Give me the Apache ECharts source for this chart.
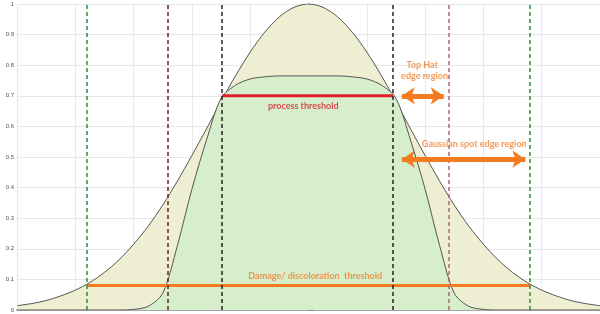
<!DOCTYPE html>
<html><head><meta charset="utf-8">
<script src="https://cdn.jsdelivr.net/npm/echarts@6/dist/echarts.min.js"></script>
<style>html,body{margin:0;padding:0;background:#fff}#c{width:600px;height:314px}</style>
</head><body><div id="c"></div>
<script>
// x positions (beam coordinate)
const xs = [-5,-4.75,-4.5,-4.25,-4,-3.75,-3.5,-3.25,-3,-2.75,-2.5,-2.25,-2,-1.75,-1.5,-1.25,-1,-0.75,-0.5,-0.25,0,
            0.25,0.5,0.75,1,1.25,1.5,1.75,2,2.25,2.5,2.75,3,3.25,3.5,3.75,4,4.25,4.5,4.75,5];
const gaussian = [0.014,0.021,0.031,0.046,0.065,0.090,0.123,0.164,0.215,0.274,0.343,0.421,0.505,0.592,0.681,0.766,0.843,0.908,0.958,0.989,1.0,
                  0.989,0.958,0.908,0.843,0.766,0.681,0.592,0.505,0.421,0.343,0.274,0.215,0.164,0.123,0.090,0.065,0.046,0.031,0.021,0.014];
const topHat = [0,0,0,0,0,0,0,0,0.002,0.012,0.055,0.21,0.395,0.555,0.692,0.735,0.755,0.762,0.765,0.765,0.765,
                0.765,0.765,0.762,0.755,0.735,0.692,0.555,0.395,0.21,0.055,0.012,0.002,0,0,0,0,0,0,0,0];
const yTicks = [0,0.1,0.2,0.3,0.4,0.5,0.6,0.7,0.8,0.9,1];
// vertical dashed markers
const markerX = [-3.8,-2.42,-1.48,1.45,2.41,3.8];
const markerColors = ['#2f8a3a','#6a2020','#222222','#222222','#a86a74','#2f8a3a'];
// thresholds
const processThreshold = {value:0.7, from:-1.48, to:1.45};
const damageThreshold = {value:0.08, from:-3.8, to:3.8};
// arrows [x1,x2,y]
const topHatArrow = [1.6, 2.32, 0.70];
const gaussArrow = [1.6, 3.72, 0.493];
// labels [text, x, y, color]
const labels = [
  ['Top Hat', 1.95, 0.80, '#f07f2a'],
  ['edge region', 1.99, 0.764, '#f07f2a'],
  ['Gaussian spot edge region', 2.843, 0.5425, '#f07f2a'],
  ['process threshold', -0.09, 0.667, '#d8202e'],
  ['Damage/ discoloration  threshold', 0.115, 0.112, '#f07f2a']
];

const chart = echarts.init(document.getElementById('c'));
const pair = (a) => xs.map((x,i)=>[x,a[i]]);
chart.setOption({
  animation:false,
  grid:{left:17,right:0,top:4,bottom:4},
  xAxis:{type:'value',min:-5,max:5,interval:1,
    axisLine:{show:true,onZero:false,lineStyle:{color:'#a8a8a8',width:2}},
    axisTick:{show:true,inside:true,length:4,lineStyle:{color:'#999'}},
    axisLabel:{show:false},
    splitLine:{show:true,lineStyle:{color:'#e8e8e8',width:1}}},
  yAxis:{type:'value',min:0,max:1,interval:0.1,
    axisLine:{show:true,lineStyle:{color:'#a8a8a8',width:2}},
    axisTick:{show:true,inside:true,length:5,lineStyle:{color:'#888'}},
    axisLabel:{fontSize:6,color:'#555',margin:3,fontFamily:'Liberation Sans',
      formatter:(v)=>{const t=yTicks.find(k=>Math.abs(k-v)<1e-6);return t===undefined?'':String(+t.toFixed(1));}},
    splitLine:{show:true,lineStyle:{color:'#e8e8e8',width:1}}},
  series:[
    {type:'line',data:pair(gaussian),smooth:0.3,symbol:'none',z:1,
     lineStyle:{color:'#555',width:1},areaStyle:{color:'#eeeed2',opacity:1}},
    {type:'line',data:pair(topHat),smooth:0.3,symbol:'none',z:2,
     lineStyle:{color:'#555',width:1},areaStyle:{color:'#d6eecb',opacity:1}},
    {type:'line',data:[],z:3,symbol:'none',
     markLine:{silent:true,symbol:'none',label:{show:false},
       data:markerX.map((x,i)=>({xAxis:x,lineStyle:{color:markerColors[i],type:[4,3],width:1.5}}))}},
    {type:'line',z:4,symbol:'none',data:[[processThreshold.from,processThreshold.value],[processThreshold.to,processThreshold.value]],
     lineStyle:{color:'#e21f2b',width:3}},
    {type:'line',z:4,symbol:'none',data:[[damageThreshold.from,damageThreshold.value],[damageThreshold.to,damageThreshold.value]],
     lineStyle:{color:'#f47b20',width:3}},
    {type:'line',data:[],z:5,symbol:'none',
     markLine:{silent:true,symbol:['arrow','arrow'],symbolSize:13,label:{show:false},
       lineStyle:{color:'#f47b20',width:5,type:'solid'},
       data:[
         [{coord:[topHatArrow[0],topHatArrow[2]]},{coord:[topHatArrow[1],topHatArrow[2]]}],
         [{coord:[gaussArrow[0],gaussArrow[2]]},{coord:[gaussArrow[1],gaussArrow[2]]}]
       ]}},
    {type:'scatter',z:6,symbolSize:1,itemStyle:{color:'transparent'},silent:true,
     data:labels.map(l=>({value:[l[1],l[2]],label:{show:true,position:'inside',formatter:l[0],
       color:l[3],fontSize:9,fontWeight:'bold',fontFamily:'Lato'}}))}
  ]
});
</script></body></html>
